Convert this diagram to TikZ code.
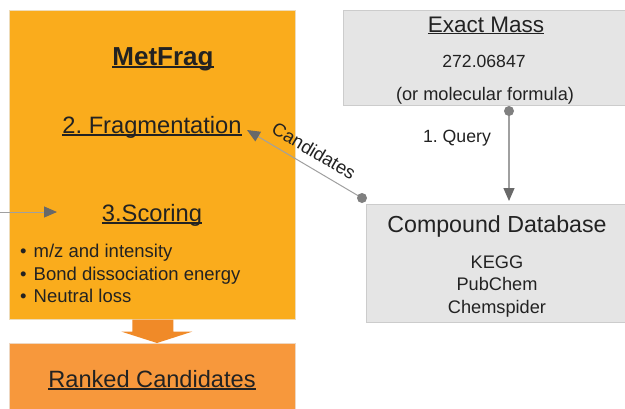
\documentclass[tikz,border=0pt]{standalone}
\usepackage{fontspec}
\setmainfont{Liberation Sans}
\usetikzlibrary{arrows.meta,calc}
\frenchspacing
\newcommand\myul[1]{\setbox0\hbox{#1}\rlap{\rule[-0.11em]{\wd0}{0.055em}}\box0}
\definecolor{metorange}{RGB}{250,172,28}
\definecolor{rankorange}{RGB}{247,152,60}
\definecolor{fatorange}{RGB}{240,138,40}
\definecolor{boxgray}{RGB}{229,229,229}
\definecolor{bordergray}{RGB}{204,204,204}
\definecolor{linegray}{RGB}{160,160,160}
\definecolor{headgray}{RGB}{105,105,105}
\definecolor{txt}{RGB}{34,34,34}
\tikzset{
  panel/.style={anchor=north west, inner sep=0pt, draw=#1!80!black!30, line width=0.6pt},
  lbl/.style={anchor=base, inner sep=0pt, text=txt},
  conn/.style={draw=linegray, line width=1.2pt, -{Triangle[length=13pt,width=11pt,fill=headgray,color=headgray]}},
  dot/.style={fill=headgray!85!white}
}
\begin{document}
\begin{tikzpicture}[x=1pt,y=-1pt]
\useasboundingbox (0,0) rectangle (625,408);
\fill[white] (0,0) rectangle (625,408);

% MetFrag panel
\node[panel=metorange, fill=metorange, minimum width=286pt, minimum height=309pt] (metfrag) at (9,10) {};
\node[panel=rankorange, fill=rankorange, minimum width=286pt, minimum height=66pt] (ranked) at (9,343) {};

\node[lbl, font=\bfseries\fontsize{26}{30}\selectfont] (title) at (163,65) {\myul{MetFrag}};
\node[lbl, font=\fontsize{23.7}{28}\selectfont] (frag) at (152,133) {\myul{2. Fragmentation}};
\node[lbl, font=\fontsize{23.7}{28}\selectfont] (score) at (152,221) {\myul{3.Scoring}};
\node[anchor=base west, inner sep=0pt, text=txt, font=\fontsize{18.5}{23}\selectfont] (b1) at (20,257) {\textbullet\hspace{7pt}m/z and intensity};
\node[anchor=base west, inner sep=0pt, text=txt, font=\fontsize{18.5}{23}\selectfont] (b2) at (20,280) {\textbullet\hspace{7pt}Bond dissociation energy};
\node[anchor=base west, inner sep=0pt, text=txt, font=\fontsize{18.5}{23}\selectfont] (b3) at (20,302) {\textbullet\hspace{7pt}Neutral loss};
\node[lbl, font=\fontsize{23.6}{28}\selectfont] (rankt) at (152,387) {\myul{Ranked Candidates}};

% fat arrow
\fill[fatorange] ($(metfrag.south)+(-20,0)$) -- ($(metfrag.south)+(21,0)$) -- ($(metfrag.south)+(21,12)$)
  -- ($(metfrag.south)+(40,12)$) -- (ranked.north -| {157,0}) -- ($(metfrag.south)+(-31,12)$)
  -- ($(metfrag.south)+(-20,12)$) -- cycle;

% left incoming arrow
\coordinate (leftin) at (0,212);
\coordinate (leftend) at (57,212);
\draw[conn, line width=1pt] (leftin) -- (leftend);

% Exact mass
\node[panel=boxgray, fill=boxgray, draw=bordergray, minimum width=283pt, minimum height=95pt] (exact) at (343,10) {};
\node[lbl, font=\fontsize{22.5}{27}\selectfont] (exactt) at (486,32) {\myul{Exact Mass}};
\node[lbl, font=\fontsize{17.6}{21}\selectfont] (mass) at (484,67) {272.06847};
\node[lbl, font=\fontsize{18.2}{22}\selectfont] (formula) at (485,100) {(or molecular formula)};

% Compound database
\node[panel=boxgray, fill=boxgray, draw=bordergray, minimum width=260pt, minimum height=118pt] (db) at (366,204) {};
\node[lbl, font=\fontsize{23.2}{28}\selectfont] (dbt) at (497,232) {Compound Database};
\node[lbl, font=\fontsize{18.2}{22}\selectfont] (kegg) at (497,268) {KEGG};
\node[lbl, font=\fontsize{18.2}{22}\selectfont] (pub) at (497,290) {PubChem};
\node[lbl, font=\fontsize{18.2}{22}\selectfont] (chem) at (497,313) {Chemspider};

% query connector
\coordinate (qstart) at (509,111);
\coordinate (qend) at (509,201);
\draw[conn] (qstart) -- (qend);
\fill[dot] (qstart) circle (5);
\node[lbl, font=\fontsize{17.7}{21}\selectfont] (query) at (457,142) {1. Query};

% candidates connector
\coordinate (cstart) at (362,198);
\coordinate (cend) at (247,130);
\draw[conn, line width=1pt] (cstart) -- (cend);
\fill[dot] (cstart) circle (5);
\node[inner sep=0pt, text=txt, rotate=-30.5, font=\fontsize{18.5}{22}\selectfont] (cand) at (314,151) {Candidates};
\end{tikzpicture}
\end{document}
